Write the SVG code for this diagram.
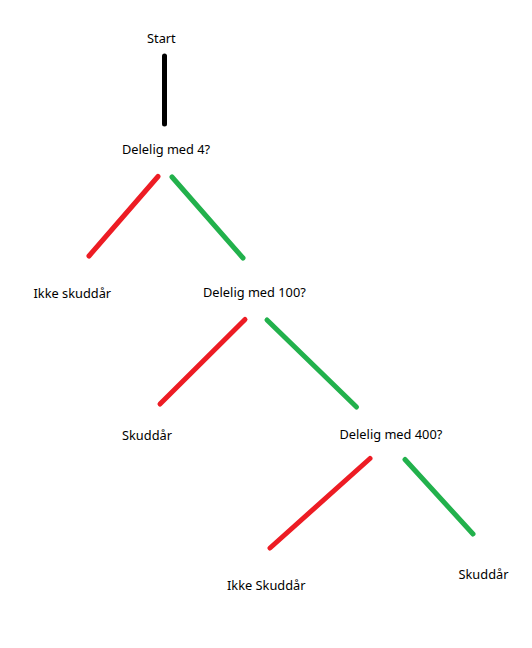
<svg xmlns="http://www.w3.org/2000/svg" width="532" height="648" viewBox="0 0 532 648">
<style>
text{font-family:"Noto Sans","Open Sans","DejaVu Sans",sans-serif;font-size:12.8px;fill:#000}
.k{stroke:#000;stroke-width:5;stroke-linecap:round;fill:none}
.r{stroke:#ED1C24;stroke-width:5;stroke-linecap:round;fill:none}
.g{stroke:#22B14C;stroke-width:5;stroke-linecap:round;fill:none}
</style>
<rect width="532" height="648" fill="#fff"/>
<g id="connectors">
<line class="k" x1="164.5" y1="56" x2="164.5" y2="124"/>
<line class="r" x1="158" y1="176.5" x2="89" y2="256"/>
<line class="g" x1="172" y1="177" x2="243" y2="258"/>
<line class="r" x1="245" y1="319.5" x2="160" y2="404"/>
<line class="g" x1="267" y1="320" x2="356.5" y2="407"/>
<line class="r" x1="370" y1="458.5" x2="270" y2="548"/>
<line class="g" x1="405" y1="459.5" x2="473" y2="534"/>
</g>
<g id="start"><text x="147" y="43">Start</text></g>
<g id="q4"><text x="122" y="154">Delelig med 4?</text></g>
<g id="ikke1"><text x="33.5" y="298">Ikke skuddår</text></g>
<g id="q100"><text x="203" y="297">Delelig med 100?</text></g>
<g id="skudd1"><text x="122" y="440">Skuddår</text></g>
<g id="q400"><text x="339.5" y="438.5">Delelig med 400?</text></g>
<g id="ikke2"><text x="227" y="590">Ikke Skuddår</text></g>
<g id="skudd2"><text x="458.5" y="578.5">Skuddår</text></g>
</svg>
